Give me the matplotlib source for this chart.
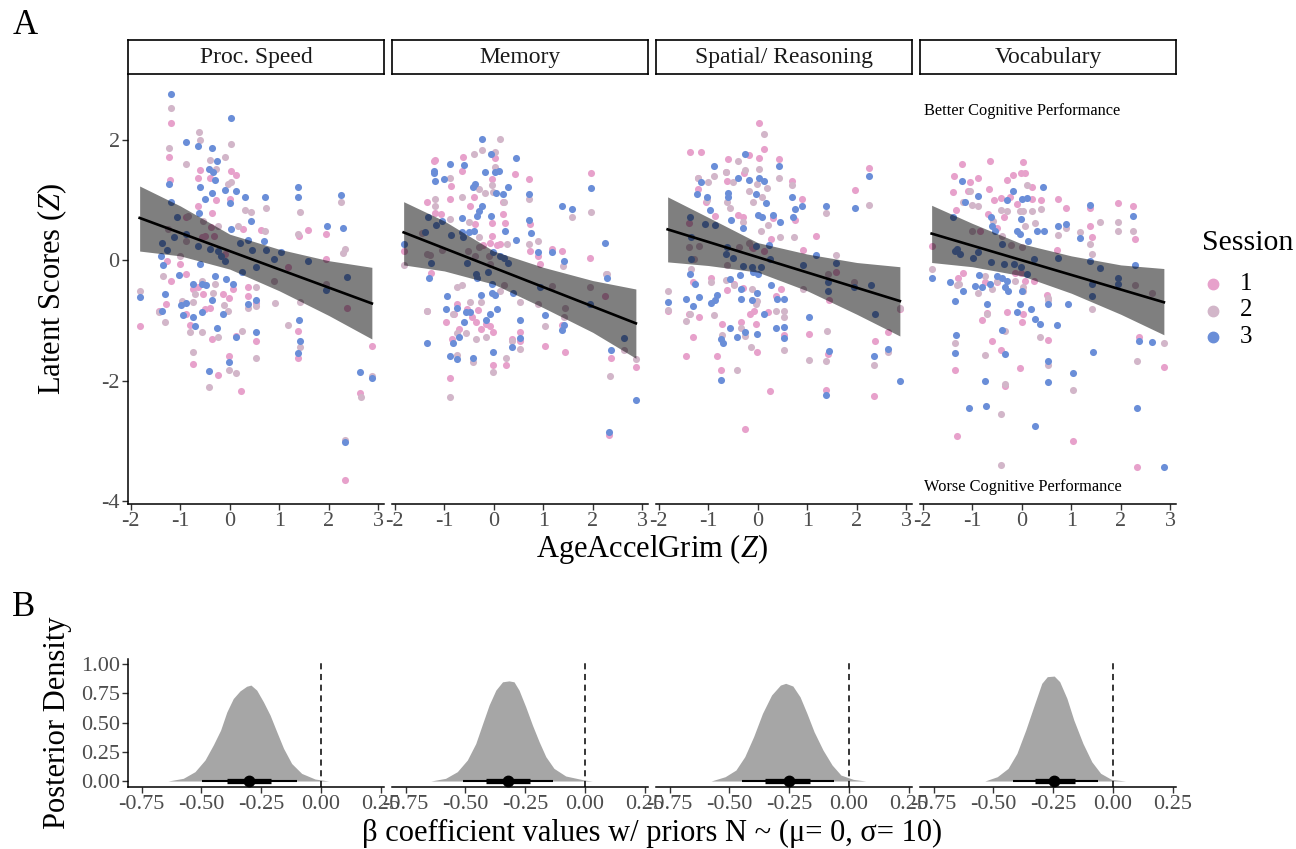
import matplotlib
matplotlib.use("Agg")
import matplotlib.pyplot as plt
from matplotlib.lines import Line2D
from matplotlib.ticker import FormatStrFormatter

plt.rcParams["font.family"] = ["Liberation Serif", "DejaVu Serif"]
plt.rcParams["mathtext.fontset"] = "custom"
plt.rcParams["mathtext.rm"] = "Liberation Serif"
plt.rcParams["mathtext.it"] = "Liberation Serif:italic"
plt.rcParams["axes.unicode_minus"] = False

domains = ["Proc. Speed", "Memory", "Spatial/ Reasoning", "Vocabulary"]
sessions = ["1", "2", "3"]
session_colors = ["#E7A1CB", "#D2B6C9", "#6A8ED8"]

# ---- panel A: (AgeAccelGrim Z, latent score Z) per session ----
speed_s1 = [(-1.19, 2.27), (-1.23, 1.72), (-0.61, 1.50), (-0.64, 1.36), (-1.20, 1.33), (0.03, 1.48),
            (0.13, 1.41), (-0.40, 1.36), (-0.27, 0.99), (-0.36, 0.79), (-0.64, 0.90), (0.00, 1.01),
            (-0.51, 0.40), (-0.32, 0.40), (0.27, 0.51), (0.64, 0.50), (1.58, 0.50), (1.40, 0.40),
            (1.95, 0.44), (1.95, 0.02), (-1.18, -0.34), (-1.01, -0.07), (-0.88, -0.23), (-0.74, -0.48),
            (-0.64, -0.45), (-0.54, -0.56), (-0.40, -0.79), (-0.88, -0.90), (-0.51, -0.81), (-0.13, -0.56),
            (-0.02, -0.63), (0.07, -0.48), (0.36, -0.59), (0.53, -0.71), (0.52, -1.35), (0.37, -0.44),
            (0.13, -1.26), (-0.36, -1.31), (-0.24, -1.90), (-0.02, -1.60), (-0.74, -1.73), (-0.81, -1.07),
            (0.22, -2.17), (-1.29, -0.73), (-1.43, -0.84), (-1.82, -1.09), (1.38, -1.17), (1.38, -1.63),
            (2.63, -2.20), (2.87, -1.43), (2.32, -3.65), (2.36, -0.79), (1.17, -0.12), (-1.26, -0.01),
            (-0.10, 0.10), (-0.37, 0.55), (-0.88, 0.71), (-0.57, 0.39)]
speed_s2 = [(-1.19, 2.52), (-0.63, 2.12), (-0.61, 1.99), (0.03, 1.93), (-1.23, 1.86), (-0.89, 1.60),
            (-0.10, 1.72), (-0.40, 1.66), (-0.27, 1.52), (0.03, 1.29), (-0.03, 1.26), (0.30, 0.83),
            (0.42, 0.80), (0.73, 0.87), (1.41, 0.80), (2.24, 0.97), (1.38, 0.44), (0.71, 0.49),
            (0.17, 0.57), (2.32, 0.18), (2.29, 0.12), (-0.24, 0.57), (-0.54, 0.65), (-0.84, 0.74),
            (-1.01, 0.07), (-1.35, -0.26), (-1.82, -0.51), (-1.31, -1.02), (-1.43, -0.87), (-0.74, -0.70),
            (-0.96, -0.68), (-0.81, -1.20), (-0.56, -1.20), (-0.42, -2.11), (-0.24, -1.28), (-0.02, -1.83),
            (0.13, -1.88), (0.24, -1.17), (0.37, -0.80), (0.54, -0.77), (0.53, -1.62), (0.92, -0.72),
            (1.17, -1.07), (1.42, -1.45), (1.42, -0.70), (-0.71, -0.56), (-0.57, -0.35), (-0.30, -0.39),
            (-0.34, -0.54), (-0.11, -0.74), (-0.03, -0.85), (-0.74, -1.52), (2.32, -2.99), (2.65, -2.28),
            (2.87, -1.93), (1.95, -0.40), (0.90, -0.35), (0.54, -0.44), (-0.88, 0.32), (-1.25, 0.51)]
speed_s3 = [(-1.19, 2.76), (0.03, 2.36), (-0.89, 1.96), (-0.64, 1.89), (-0.36, 1.86), (-0.25, 1.64),
            (-0.42, 1.52), (-0.34, 1.46), (-0.29, 1.33), (-0.61, 1.22), (-1.23, 1.27), (-0.10, 1.16),
            (0.12, 1.15), (0.30, 1.05), (0.72, 1.05), (1.38, 1.21), (1.38, 1.04), (0.00, 0.94),
            (-0.36, 1.12), (-0.51, 1.01), (-0.63, 0.79), (-1.19, 0.97), (-1.06, 0.71), (0.42, 0.65),
            (-0.88, 0.44), (-1.37, 0.29), (-1.27, 0.17), (-1.13, 0.39), (-0.64, 0.24), (-0.40, 0.18),
            (-0.17, 0.07), (0.02, 0.51), (0.20, 0.28), (0.37, 0.33), (0.45, 0.17), (0.69, 0.32),
            (0.74, 0.17), (0.90, 0.01), (1.04, 0.13), (1.58, -0.02), (1.97, 0.57), (2.29, 0.54),
            (2.24, 1.08), (2.36, -0.28), (0.25, -0.19), (0.53, -0.11), (-0.07, -0.32), (-0.30, -0.27),
            (-0.57, -0.40), (-0.74, -0.40), (-0.47, -0.42), (-1.02, -0.24), (-0.61, -0.07), (-0.88, -0.71),
            (-0.98, -0.74), (-0.94, -0.91), (-0.74, -0.94), (-0.71, -1.09), (-0.56, -0.87), (-0.36, -0.66),
            (-0.13, -0.90), (-1.31, -0.56), (-1.36, -0.85), (-1.82, -0.62), (0.07, -0.39), (0.37, -0.73),
            (0.53, -0.66), (0.52, -1.19), (0.13, -1.28), (-0.25, -1.13), (-0.01, -1.69), (-0.42, -1.84),
            (1.38, -1.54), (1.42, -1.35), (1.40, -1.00), (1.95, -0.50), (2.32, -3.02), (2.63, -1.85),
            (2.87, -1.96), (-1.35, -0.08), (-0.10, -0.01), (-0.24, 0.15), (-1.39, 0.06)]

memory_s1 = [(-1.21, 1.64), (-1.19, 1.66), (-0.62, 1.72), (-0.64, 1.48), (0.03, 1.69), (0.42, 1.43),
             (0.71, 1.34), (1.97, 1.44), (-0.86, 1.23), (-0.89, 1.01), (-0.03, 1.34), (-0.40, 1.04),
             (-0.47, 0.89), (0.19, 0.97), (-1.35, 0.96), (-1.19, 0.78), (-1.06, 0.76), (-0.03, 0.61),
             (0.22, 0.61), (-0.37, 0.60), (-0.03, 0.40), (0.74, 0.60), (0.73, 0.15), (0.89, 0.06),
             (0.93, -0.07), (1.18, 0.18), (1.38, 0.15), (1.95, 0.03), (0.13, 0.27), (0.07, 0.25),
             (-0.08, 0.28), (-0.22, 0.25), (-1.82, 0.15), (-1.26, -0.22), (-0.74, -0.73), (-0.81, -0.90),
             (-0.96, -1.03), (-0.71, -1.15), (-0.54, -0.81), (-0.44, -0.94), (-0.36, -1.03), (-0.32, -0.83),
             (-0.25, -1.15), (-0.02, -1.20), (-0.07, -1.09), (-0.15, -1.06), (-1.35, -0.84), (-0.84, -1.31),
             (0.37, -1.31), (0.52, -1.20), (0.53, -1.34), (1.04, -1.42), (1.43, -1.52), (1.38, -1.08),
             (2.36, -1.62), (2.87, -1.77), (2.32, -2.90), (-0.88, -1.95), (-0.01, -1.75), (0.24, -1.74),
             (2.24, -0.59), (0.18, 0.76)]
memory_s2 = [(0.12, 2.01), (0.03, 1.79), (-0.24, 1.82), (-0.40, 1.76), (-1.18, 1.01), (-1.19, 0.89),
             (-0.89, 1.36), (-0.03, 1.25), (0.03, 1.54), (-0.29, 1.18), (-0.17, 1.11), (-0.01, 1.13),
             (-0.64, 1.05), (0.20, 0.97), (0.71, 1.01), (-0.88, 0.68), (-0.49, 0.64), (-0.29, 0.38),
             (-1.04, 0.17), (0.89, 0.32), (0.71, 0.27), (0.27, 0.27), (1.39, -0.09), (1.58, 0.71),
             (1.97, 0.80), (-1.45, 0.45), (-1.35, 0.10), (-1.28, 0.08), (-1.82, -0.08), (-0.74, -0.45),
             (-0.64, -0.41), (-0.47, -0.69), (-0.26, -0.69), (-0.37, 0.07), (-0.53, 0.15), (-0.30, 0.21),
             (-0.10, 0.07), (-0.08, -0.07), (0.13, -0.51), (0.20, -0.41), (0.53, -0.69), (0.90, -0.73),
             (1.04, -1.09), (1.43, -0.79), (1.42, -0.95), (2.26, -0.23), (2.29, -0.23), (-1.35, -0.85),
             (-0.82, -0.90), (-0.74, -1.21), (-0.56, -1.21), (-0.35, -1.31), (-0.15, -1.28), (0.37, -1.34),
             (0.54, -1.47), (0.24, -1.62), (-0.01, -1.86), (-0.41, -1.70), (-0.88, -2.28), (-0.74, -1.57),
             (2.34, -1.92), (2.63, -1.49), (2.87, -1.64), (1.95, -0.45), (1.18, -0.43)]
memory_s3 = [(-0.24, 2.01), (-0.05, 1.76), (0.44, 1.69), (-0.89, 1.59), (-0.61, 1.58), (-1.20, 1.48),
             (-1.21, 1.44), (-1.19, 1.32), (-1.01, 1.34), (-0.17, 1.47), (0.02, 1.47), (0.11, 1.48),
             (-0.38, 1.26), (-0.42, 1.21), (0.28, 1.21), (0.19, 1.10), (0.71, 1.10), (-0.24, 0.89),
             (-0.30, 0.82), (-0.34, 0.74), (-0.05, 0.74), (0.05, 1.12), (-0.64, 0.70), (-1.33, 0.71),
             (-1.17, 0.59), (-1.04, 0.65), (0.71, 0.67), (0.75, 0.45), (0.22, 0.48), (0.45, 0.34),
             (-0.86, 0.42), (-0.64, 0.46), (-0.49, 0.46), (-0.40, 0.49), (-0.63, 0.38), (-0.01, 0.14),
             (0.13, 0.07), (0.20, 0.04), (0.29, -0.04), (0.89, 0.14), (1.18, 0.14), (1.42, -0.02),
             (1.38, 0.90), (1.58, 0.85), (1.97, 1.19), (2.24, 0.28), (2.29, -0.30), (-1.26, -0.04),
             (-1.30, -0.30), (-0.54, -0.04), (-0.34, -0.29), (-0.36, -0.23), (-0.12, -0.19), (-0.03, -0.40),
             (-0.26, -0.58), (-0.03, -0.55), (0.03, -0.58), (0.38, -0.54), (-0.95, -0.59), (-0.97, -0.82),
             (-0.74, -0.79), (-0.56, -0.87), (-0.47, -0.87), (0.07, -0.81), (-0.07, -0.89), (-0.15, -0.99),
             (-0.61, -1.03), (-0.71, -1.27), (-0.82, -1.38), (-1.35, -1.38), (0.53, -0.99), (0.54, -1.30),
             (0.37, -1.44), (1.04, -0.91), (1.38, -1.16), (1.42, -1.07), (1.95, -0.73), (2.36, -1.49),
             (2.63, -1.29), (2.87, -2.32), (2.32, -2.86), (-0.01, -1.53), (-0.41, -1.62), (-0.74, -1.64),
             (-0.88, -1.59), (-1.82, 0.27), (-1.38, 0.46), (0.93, -0.45)]

spatial_s1 = [(0.03, 2.27), (0.12, 1.84), (-1.36, 1.79), (-1.15, 1.80), (-0.61, 1.68), (-0.18, 1.74),
              (0.02, 1.69), (0.42, 1.68), (-0.65, 1.47), (-0.63, 1.32), (-1.20, 1.36), (-1.21, 1.18),
              (-0.27, 1.44), (0.69, 1.32), (0.89, 1.02), (-1.04, 0.97), (-0.39, 0.75), (0.30, 0.70),
              (0.75, 0.66), (1.18, 0.40), (1.97, 1.17), (2.24, 1.53), (-0.86, 0.74), (-0.30, 0.71),
              (0.27, 0.35), (-0.11, 0.21), (0.13, 0.15), (0.92, 0.17), (-1.31, -0.37), (-0.94, -0.30),
              (-0.62, -0.50), (-0.47, -0.39), (-0.30, -0.47), (0.20, -0.87), (0.46, -0.48), (0.37, -0.59),
              (-0.07, -0.85), (-0.15, -0.90), (-1.18, -0.94), (-1.38, -0.90), (-1.82, -0.84), (-0.73, -1.06),
              (-0.34, -1.03), (-0.03, -1.06), (0.54, -1.25), (-1.30, -1.28), (-1.44, -1.59), (-0.82, -1.60),
              (-0.02, -1.53), (1.04, -1.23), (1.42, -1.56), (1.38, -2.15), (2.36, -1.35), (2.87, -0.82),
              (2.63, -1.19), (2.34, -2.26), (0.24, -2.17), (-0.25, -2.81), (-0.74, -1.83), (1.58, -0.20),
              (1.43, -0.66), (-1.38, 0.61), (-0.09, 0.20)]
spatial_s2 = [(0.12, 2.09), (-0.40, 1.64), (0.03, 1.51), (-0.25, 1.50), (-1.20, 1.37), (-1.01, 1.30),
              (-0.89, 1.39), (-0.64, 1.47), (-0.51, 1.29), (-0.02, 1.26), (0.18, 1.20), (0.42, 1.37),
              (0.69, 1.25), (-0.17, 1.14), (-0.10, 0.97), (0.09, 1.05), (-0.56, 0.87), (-0.63, 0.96),
              (-0.30, 0.63), (0.07, 0.48), (0.45, 0.39), (0.20, 0.59), (0.74, 0.38), (1.38, 0.79),
              (2.24, 0.92), (-1.02, 0.99), (1.58, 0.09), (-1.38, 0.22), (-1.18, 0.24), (-1.28, 0.02),
              (-1.35, -0.15), (-0.94, -0.37), (-0.64, -0.33), (-0.47, -0.41), (-0.12, -0.48), (-0.03, -0.73),
              (-0.01, -0.68), (0.37, -0.85), (0.53, -0.84), (0.53, -0.94), (-0.88, -0.92), (-1.44, -1.01),
              (-1.37, -0.90), (-1.82, -0.51), (-1.82, -0.83), (-0.73, -1.25), (-0.42, -1.82), (-0.34, -1.13),
              (-0.25, -1.26), (-0.13, -1.44), (0.54, -1.49), (1.04, -1.66), (1.40, -1.17), (1.38, -1.67),
              (2.34, -1.74), (2.63, -1.52), (2.87, -0.79), (1.95, -0.37), (0.91, -0.48), (1.42, -0.23),
              (-0.63, -0.08), (-0.37, 0.21), (-0.18, 0.29)]
spatial_s3 = [(-0.25, 1.76), (-0.89, 1.57), (0.42, 1.57), (-0.40, 1.37), (-0.17, 1.33), (0.02, 1.37),
              (0.12, 1.32), (-0.61, 1.12), (-0.61, 1.04), (-1.23, 1.10), (-1.15, 1.29), (-1.03, 1.04),
              (-0.03, 1.10), (0.17, 0.94), (0.69, 1.04), (0.75, 0.85), (0.89, 0.89), (1.38, 0.89),
              (1.97, 0.86), (2.24, 1.40), (-0.96, 0.83), (-0.55, 0.67), (-0.30, 0.53), (0.00, 0.75),
              (0.09, 0.72), (0.30, 0.75), (0.45, 0.63), (0.72, 0.71), (-1.36, 0.72), (-1.06, 0.60),
              (-0.86, 0.58), (-1.35, 0.38), (-0.63, 0.21), (-0.65, 0.10), (-0.49, 0.03), (-0.11, -0.11),
              (-0.03, 0.24), (0.07, -0.11), (0.22, 0.25), (0.25, 0.02), (1.18, 0.08), (0.92, -0.08),
              (1.58, -0.04), (-1.35, 0.01), (-1.36, -0.23), (-1.26, -0.39), (-0.56, -0.32), (-0.36, -0.25),
              (-0.30, -0.09), (-0.10, -0.20), (0.00, -0.23), (0.27, -0.41), (-0.34, -0.48), (-0.02, -0.54),
              (-0.11, -0.66), (-0.82, -0.58), (-0.87, -0.66), (-0.94, -0.72), (-1.18, -0.61), (-1.30, -0.76),
              (-1.44, -0.65), (-1.82, -0.69), (-0.34, -0.65), (0.13, -0.90), (0.38, -0.65), (0.53, -0.64),
              (1.04, -0.94), (-0.56, -1.13), (-0.74, -1.31), (-0.71, -1.37), (-0.42, -1.28), (-0.25, -1.19),
              (-0.02, -1.23), (0.37, -1.12), (0.54, -1.11), (0.53, -1.29), (1.43, -1.51), (1.41, -0.51),
              (1.42, -0.37), (1.95, -0.44), (2.28, -0.41), (2.36, -0.90), (2.34, -1.60), (2.63, -1.48),
              (2.87, -2.00), (1.38, -2.24), (-0.74, -1.99)]

vocab_s1 = [(-1.21, 1.59), (-0.64, 1.64), (0.02, 1.63), (-1.36, 1.39), (-1.04, 1.29), (-0.88, 1.36),
            (-0.30, 1.33), (-0.17, 1.42), (-0.02, 1.44), (0.07, 1.44), (0.20, 1.21), (-1.38, 1.13),
            (-1.08, 1.14), (-0.67, 1.18), (-0.56, 0.99), (-0.42, 1.03), (-0.24, 1.04), (-0.10, 0.93),
            (0.20, 1.01), (0.38, 0.99), (0.74, 1.01), (0.89, 0.86), (1.38, 0.86), (1.95, 0.95),
            (2.24, 0.89), (2.29, 0.35), (1.38, 0.57), (1.42, 0.39), (-0.36, 0.71), (-0.51, 0.54),
            (-0.69, 0.76), (-1.33, 0.83), (-1.82, 0.24), (-1.18, -0.22), (-1.28, -0.29), (-0.74, -0.37),
            (-0.49, -0.37), (-0.13, -0.22), (0.07, -0.34), (0.24, -0.34), (0.71, 0.17), (0.51, -0.58),
            (-0.29, -0.86), (0.02, -0.90), (0.00, -1.03), (-0.81, -1.00), (-0.71, -0.88), (-0.61, -1.35),
            (-0.42, -1.49), (-0.03, -1.79), (0.52, -1.33), (-1.35, -1.83), (-1.30, -2.92), (1.04, -3.01),
            (2.32, -3.43), (2.87, -1.77), (2.36, -1.27), (-0.34, -2.09), (-0.02, -0.22), (-0.84, 0.49)]
vocab_s2 = [(-1.04, 1.14), (-1.18, 0.96), (-1.01, 0.92), (-0.89, 0.90), (-1.01, 0.49), (0.10, 1.25),
            (-0.03, 0.82), (0.02, 0.82), (-0.30, 0.82), (-0.42, 0.83), (0.20, 0.82), (0.38, 0.85),
            (0.27, 0.61), (0.07, 0.57), (-0.59, 0.65), (-0.40, 0.40), (0.74, 0.42), (0.89, 0.54),
            (1.18, 0.46), (1.58, 0.64), (1.95, 0.49), (2.24, 0.49), (1.38, 0.27), (1.95, 0.63),
            (-1.82, -0.15), (-1.31, -0.41), (-1.26, -0.40), (-0.88, -0.55), (-0.74, -0.27), (-0.71, -0.89),
            (-0.61, -0.48), (-0.51, -0.35), (-0.13, -0.35), (0.02, -0.45), (0.03, -0.51), (0.52, -0.66),
            (0.53, -0.63), (1.42, -0.82), (-0.74, -1.58), (-1.35, -1.37), (-0.34, -1.18), (0.37, -1.27),
            (0.54, -1.74), (1.04, -2.16), (-0.42, -2.56), (-0.42, -3.40), (-0.34, -2.06), (2.32, -1.67),
            (2.87, -1.37), (2.63, -0.55), (2.29, -0.41), (1.42, 0.10), (0.00, 0.21), (-0.22, 0.25)]
vocab_s3 = [(-1.21, 1.32), (-0.89, 1.07), (-0.17, 1.14), (0.42, 1.21), (1.38, 0.92), (2.24, 0.74),
            (-1.15, 0.96), (-1.38, 0.71), (-0.63, 0.71), (-0.61, 0.57), (-0.30, 0.99), (0.00, 1.01),
            (0.10, 1.03), (-0.01, 0.68), (0.30, 0.48), (0.45, 0.48), (0.74, 0.57), (0.89, 0.60),
            (1.18, 0.36), (-0.10, 0.49), (-0.03, 0.43), (0.12, 0.32), (-0.54, 0.49), (-0.40, 0.27),
            (-1.35, 0.15), (-1.25, 0.10), (-1.30, 0.18), (-0.98, 0.04), (-0.88, 0.13), (-0.62, -0.03),
            (-0.35, -0.07), (-0.15, -0.07), (-0.01, -0.12), (0.24, 0.02), (0.74, 0.03), (1.38, -0.01),
            (1.58, -0.13), (2.29, -0.08), (-1.82, -0.30), (-1.44, -0.36), (-1.18, -0.52), (-0.94, -0.43),
            (-0.86, -0.25), (-0.81, -0.45), (-0.64, -0.40), (-0.49, -0.26), (-0.40, -0.30), (-0.30, -0.34),
            (-0.27, -0.51), (-0.34, -0.44), (0.10, -0.23), (0.00, -0.51), (-0.10, -0.87), (-0.03, -0.73),
            (0.18, -0.81), (0.27, -0.98), (0.37, -1.06), (0.71, -1.07), (0.53, -0.73), (0.93, -0.73),
            (1.42, -0.40), (1.42, -0.60), (1.95, -0.30), (1.95, -0.39), (-1.35, -0.68), (-1.33, -1.24),
            (-1.35, -1.54), (-0.40, -1.16), (-0.34, -1.56), (0.52, -1.68), (0.54, -2.03), (1.04, -1.88),
            (-0.74, -2.01), (-0.73, -2.42), (-1.06, -2.46), (0.27, -2.76), (1.43, -1.52), (2.32, -2.46),
            (2.36, -1.34), (2.63, -1.36), (2.87, -3.44), (-0.71, -0.73)]

scatter = {
    "Proc. Speed": [speed_s1, speed_s2, speed_s3],
    "Memory": [memory_s1, memory_s2, memory_s3],
    "Spatial/ Reasoning": [spatial_s1, spatial_s2, spatial_s3],
    "Vocabulary": [vocab_s1, vocab_s2, vocab_s3],
}

# linear fit and its confidence band
fit_x = [-1.82, 2.87]
fit_y = {"Proc. Speed": [0.70, -0.72], "Memory": [0.46, -1.05],
         "Spatial/ Reasoning": [0.51, -0.68], "Vocabulary": [0.44, -0.70]}
band_x = [-1.82, -1.0, 0.0, 1.0, 2.0, 2.87]
band_hi = {"Proc. Speed": [1.23, 0.90, 0.43, 0.18, -0.01, -0.12],
           "Memory": [0.97, 0.65, 0.15, -0.12, -0.34, -0.48],
           "Spatial/ Reasoning": [1.05, 0.71, 0.29, 0.10, -0.04, -0.11],
           "Vocabulary": [0.91, 0.61, 0.27, 0.07, -0.08, -0.14]}
band_lo = {"Proc. Speed": [0.15, 0.07, -0.15, -0.51, -0.92, -1.31],
           "Memory": [-0.08, -0.18, -0.40, -0.79, -1.20, -1.63],
           "Spatial/ Reasoning": [-0.03, -0.09, -0.20, -0.51, -0.90, -1.26],
           "Vocabulary": [-0.04, -0.11, -0.26, -0.55, -0.90, -1.24]}

# ---- panel B: posterior densities and intervals ----
dens_x = {
    "Proc. Speed": [-0.64, -0.576, -0.527, -0.485, -0.45, -0.42, -0.394, -0.367, -0.339, -0.311,
                    -0.293, -0.269, -0.241, -0.213, -0.185, -0.157, -0.123, -0.081, -0.025, 0.033],
    "Memory": [-0.645, -0.583, -0.534, -0.492, -0.457, -0.43, -0.401, -0.373, -0.345, -0.318,
               -0.297, -0.276, -0.248, -0.22, -0.192, -0.164, -0.13, -0.081, -0.004, 0.03],
    "Spatial/ Reasoning": [-0.577, -0.518, -0.473, -0.436, -0.399, -0.362, -0.324, -0.287, -0.265,
                           -0.235, -0.205, -0.176, -0.146, -0.109, -0.071, -0.034, 0.018, 0.07],
    "Vocabulary": [-0.536, -0.484, -0.439, -0.402, -0.365, -0.327, -0.298, -0.275, -0.246, -0.223,
                   -0.193, -0.164, -0.126, -0.089, -0.052, -0.007, 0.052],
}
dens_y = {
    "Proc. Speed": [0, 0.023, 0.08, 0.18, 0.31, 0.435, 0.59, 0.705, 0.77, 0.81,
                    0.82, 0.777, 0.677, 0.563, 0.42, 0.28, 0.15, 0.065, 0.017, 0],
    "Memory": [0, 0.023, 0.08, 0.18, 0.32, 0.48, 0.65, 0.777, 0.848, 0.856,
               0.848, 0.777, 0.634, 0.478, 0.336, 0.208, 0.108, 0.043, 0.009, 0],
    "Spatial/ Reasoning": [0, 0.037, 0.094, 0.208, 0.379, 0.578, 0.735, 0.82, 0.835,
                           0.812, 0.72, 0.578, 0.42, 0.265, 0.137, 0.051, 0.014, 0],
    "Vocabulary": [0, 0.037, 0.108, 0.236, 0.436, 0.664, 0.835, 0.892, 0.897, 0.849,
                   0.707, 0.521, 0.322, 0.165, 0.066, 0.014, 0],
}
post_median = {"Proc. Speed": -0.301, "Memory": -0.322, "Spatial/ Reasoning": -0.253, "Vocabulary": -0.246}
ci66 = {"Proc. Speed": [-0.394, -0.209], "Memory": [-0.415, -0.231],
        "Spatial/ Reasoning": [-0.351, -0.164], "Vocabulary": [-0.327, -0.159]}
ci95 = {"Proc. Speed": [-0.499, -0.102], "Memory": [-0.51, -0.134],
        "Spatial/ Reasoning": [-0.448, -0.064], "Vocabulary": [-0.42, -0.063]}

a_xticks = [-2, -1, 0, 1, 2, 3]
a_yticks = [-4, -2, 0, 2]
b_xticks = [-0.75, -0.50, -0.25, 0.00, 0.25]
b_yticks = [0.00, 0.25, 0.50, 0.75, 1.00]

W, H = 1296, 849
fig = plt.figure(figsize=(W / 100, H / 100), dpi=100)


def add_px_axes(left, top, width, height):
    return fig.add_axes([left / W, 1 - (top + height) / H, width / W, height / H])


def style(ax, show_y):
    ax.spines["top"].set_visible(False)
    ax.spines["right"].set_visible(False)
    ax.spines["bottom"].set_linewidth(1.1)
    ax.spines["left"].set_linewidth(1.1)
    ax.tick_params(labelsize=16, labelcolor="#4D4D4D", color="#333333",
                   length=4, width=1, pad=2)
    if not show_y:
        ax.spines["left"].set_visible(False)
        ax.tick_params(axis="y", left=False, labelleft=False)


lefts = [128, 392, 656, 920]

for i, name in enumerate(domains):
    # panel A facet
    ax = add_px_axes(lefts[i], 74, 256, 430)
    for pts, col in zip(scatter[name], session_colors):
        xs, ys = zip(*pts)
        ax.scatter(xs, ys, s=26, color=col, linewidths=0, zorder=2)
    ax.fill_between(band_x, band_lo[name], band_hi[name], color="black",
                    alpha=0.5, linewidth=0, zorder=3)
    ax.plot(fit_x, fit_y[name], color="black", lw=1.9, zorder=4)
    ax.set_xlim(-2.055, 3.115)
    ax.set_ylim(-4.05, 3.09)
    ax.set_xticks(a_xticks)
    ax.set_yticks(a_yticks)
    style(ax, i == 0)
    if name == "Vocabulary":
        ax.text(-1.98, 2.48, "Better Cognitive Performance", fontsize=11.8, va="center")
        ax.text(-1.98, -3.76, "Worse Cognitive Performance", fontsize=11.8, va="center")

    strip = add_px_axes(lefts[i], 40, 256, 34)
    strip.set_xticks([])
    strip.set_yticks([])
    for sp in strip.spines.values():
        sp.set_linewidth(1.2)
    strip.text(0.5, 0.5, name, ha="center", va="center", fontsize=17,
               color="#1A1A1A", transform=strip.transAxes)

    # panel B facet
    bx = add_px_axes(lefts[i], 659, 256, 128)
    bx.fill_between(dens_x[name], dens_y[name], 0, color="#A6A6A6", linewidth=0, zorder=2)
    bx.axvline(0, color="black", lw=1.1, ls=(0, (4, 3)), zorder=3)
    bx.plot(ci95[name], [0, 0], color="black", lw=1.5, solid_capstyle="butt", zorder=4)
    bx.plot(ci66[name], [0, 0], color="black", lw=3.8, solid_capstyle="butt", zorder=4)
    bx.plot([post_median[name]], [0], "o", color="black", ms=7.5, zorder=5)
    bx.set_xlim(-0.807, 0.263)
    bx.set_ylim(-0.051, 1.043)
    bx.set_xticks(b_xticks)
    bx.set_yticks(b_yticks)
    bx.xaxis.set_major_formatter(FormatStrFormatter("%.2f"))
    bx.yaxis.set_major_formatter(FormatStrFormatter("%.2f"))
    style(bx, i == 0)

# titles and panel letters
fig.text(25 / W, 1 - 25 / H, "A", fontsize=25, ha="center", va="center")
fig.text(24 / W, 1 - 607 / H, "B", fontsize=25, ha="center", va="center")
fig.text(52 / W, 1 - 289 / H, "Latent Scores ($Z$)", rotation=90, fontsize=22,
         ha="center", va="center")
fig.text(652 / W, 1 - 549 / H, "AgeAccelGrim ($Z$)", fontsize=22, ha="center", va="center")
fig.text(57 / W, 1 - 723 / H, "Posterior Density", rotation=90, fontsize=22,
         ha="center", va="center")
fig.text(652 / W, 1 - 833 / H, "β coefficient values w/ priors N ~ (μ= 0, σ= 10)",
         fontsize=22, ha="center", va="center")

# legend
fig.text(1202 / W, 1 - 243 / H, "Session", fontsize=21.5, ha="left", va="center")
for k, (lab, col) in enumerate(zip(sessions, session_colors)):
    ypx = 284 + 26.5 * k
    fig.add_artist(Line2D([1213 / W], [1 - ypx / H], marker="o", ms=7.5, color=col,
                          linestyle="none", transform=fig.transFigure))
    fig.text(1240 / W, 1 - ypx / H, lab, fontsize=18, ha="left", va="center")

fig.savefig("out.png", dpi=100)
